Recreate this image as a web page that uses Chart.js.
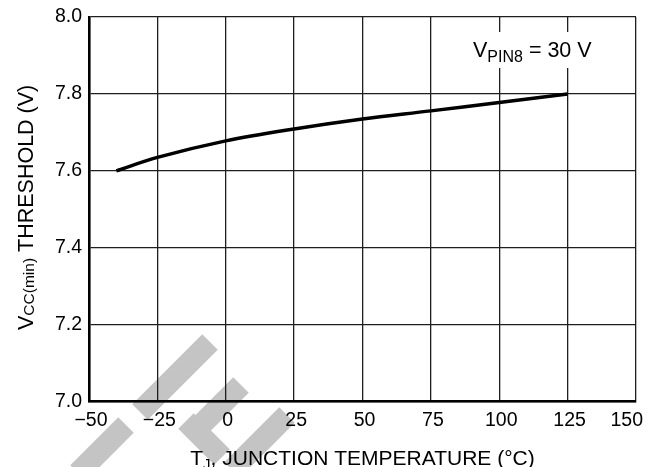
<!DOCTYPE html>
<html>
<head>
<meta charset="utf-8">
<script src="https://cdn.jsdelivr.net/npm/chart.js@4"></script>
<style>
  html, body { margin: 0; padding: 0; background: #fff; }
  #wrap { width: 647px; height: 467px; position: relative; }
</style>
</head>
<body>
<div id="wrap"><canvas id="chart"></canvas></div>
<script>
// values
const tempC = [-40, -25, 0, 25, 50, 75, 100, 125];
const vccMin = [7.600, 7.635, 7.678, 7.709, 7.735, 7.756, 7.778, 7.800];

const xTicks = [-50, -25, 0, 25, 50, 75, 100, 125, 150];
const yTicks = [7.0, 7.2, 7.4, 7.6, 7.8, 8.0];

const FONT = "'Liberation Sans', Arial, Helvetica, sans-serif";

function fmtTemp(v) {
  return v < 0 ? "\u2212" + Math.abs(v) : String(v);
}

// draws text made of parts, some of them subscripts, centred or left aligned at x
function drawParts(ctx, parts, x, y, align) {
  let total = 0;
  parts.forEach((p) => {
    ctx.font = p.size + "px " + FONT;
    p.w = ctx.measureText(p.t).width;
    total += p.w;
  });
  let cx = align === "center" ? x - total / 2 : x;
  ctx.textAlign = "left";
  ctx.textBaseline = "alphabetic";
  parts.forEach((p) => {
    ctx.font = p.size + "px " + FONT;
    ctx.fillText(p.t, cx, y + (p.dy || 0));
    cx += p.w;
  });
}

const watermark = {
  id: "watermark",
  beforeDraw(chart) {
    const ctx = chart.ctx;
    ctx.save();
    ctx.strokeStyle = "#c4c4c4";
    ctx.lineWidth = 22;
    ctx.lineCap = "butt";
    const bands = [
      [[210, 342], [140, 412]],
      [[241, 385], [193, 433]],
      [[186, 421], [222, 457]],
      [[287, 415], [232, 470]],
      [[126, 425], [78, 473]],
    ];
    bands.forEach(([a, b]) => {
      ctx.beginPath();
      ctx.moveTo(a[0], a[1]);
      ctx.lineTo(b[0], b[1]);
      ctx.stroke();
    });
    ctx.restore();
  },
};

const labels = {
  id: "labels",
  beforeDatasetsDraw(chart) {
    // white box behind the condition note
    const ctx = chart.ctx;
    ctx.save();
    ctx.fillStyle = "#fff";
    ctx.fillRect(465, 32, 134, 36);
    ctx.restore();
  },
  afterDraw(chart) {
    const ctx = chart.ctx;
    const xs = chart.scales.x;
    const area = chart.chartArea;
    ctx.save();
    ctx.fillStyle = "#000";

    // x tick labels
    ctx.font = "19.5px " + FONT;
    ctx.textBaseline = "alphabetic";
    ctx.textAlign = "left";
    xTicks.forEach((v) => {
      const s = fmtTemp(v);
      const w = ctx.measureText(s).width;
      let left = xs.getPixelForValue(v) + 2 - w / 2;
      if (left + w > chart.width - 4) left = chart.width - 4 - w;
      ctx.fillText(s, left, 426);
    });

    // x axis title
    drawParts(ctx, [
      { t: "T", size: 21 },
      { t: "J", size: 15, dy: 4 },
      { t: ", JUNCTION TEMPERATURE (\u00B0C)", size: 21 },
    ], (area.left + area.right) / 2, 465, "center");

    // y axis title
    ctx.save();
    ctx.translate(33, (area.top + area.bottom) / 2 - 2);
    ctx.rotate(-Math.PI / 2);
    drawParts(ctx, [
      { t: "V", size: 21.5 },
      { t: "CC(min)", size: 15.5, dy: 1 },
      { t: " THRESHOLD (V)", size: 21.5 },
    ], 0, 0, "center");
    ctx.restore();

    // condition note
    drawParts(ctx, [
      { t: "V", size: 21.5 },
      { t: "PIN8", size: 16, dy: 5 },
      { t: " = 30 V", size: 21.5 },
    ], 473, 57, "left");

    ctx.restore();
  },
};

const points = tempC.map((t, i) => ({ x: t, y: vccMin[i] }));

new Chart(document.getElementById("chart"), {
  type: "line",
  data: {
    datasets: [{
      label: "VCC(min) threshold",
      data: points,
      borderColor: "#000",
      borderWidth: 3.5,
      pointRadius: 0,
      fill: false,
      tension: 0.35,
    }],
  },
  options: {
    responsive: true,
    maintainAspectRatio: false,
    animation: false,
    layout: { padding: { top: 17, right: 11, left: 0, bottom: 0 } },
    plugins: {
      legend: { display: false },
      tooltip: { enabled: false },
    },
    scales: {
      x: {
        type: "linear",
        min: -50,
        max: 150,
        afterBuildTicks: (scale) => {
          scale.ticks = xTicks.map((v) => ({ value: v }));
        },
        ticks: { display: false },
        grid: { color: "#1e1e1e", lineWidth: 1.3, drawTicks: false },
        border: { color: "#000", width: 2.6 },
        afterFit: (scale) => {
          scale.height = 65.3;
          scale.paddingLeft = 0;
          scale.paddingRight = 0;
        },
      },
      y: {
        min: 7.0,
        max: 8.0,
        afterBuildTicks: (scale) => {
          scale.ticks = yTicks.map((v) => ({ value: v }));
        },
        ticks: {
          color: "#000",
          padding: 7,
          font: { family: FONT, size: 19.5 },
          callback: (v) => Number(v).toFixed(1),
        },
        grid: { color: "#1e1e1e", lineWidth: 1.3, drawTicks: false },
        border: { color: "#000", width: 2.6 },
        afterFit: (scale) => {
          scale.width = 89;
          scale.paddingTop = 0;
          scale.paddingBottom = 0;
        },
      },
    },
  },
  plugins: [watermark, labels],
});
</script>
</body>
</html>
